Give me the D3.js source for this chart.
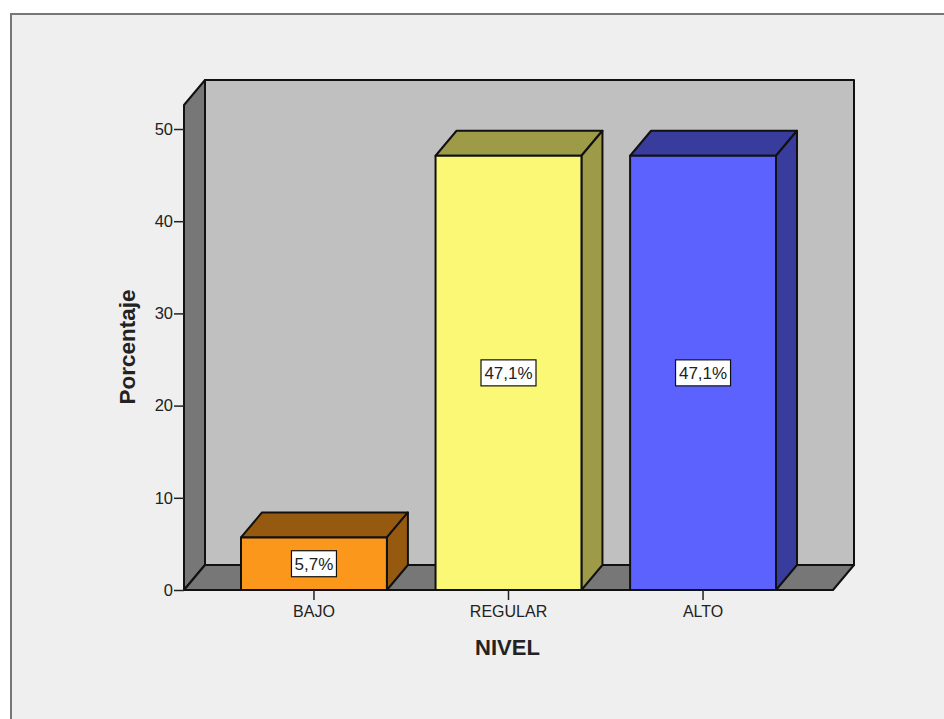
<!DOCTYPE html>
<html>
<head>
<meta charset="utf-8">
<script src="https://cdn.jsdelivr.net/npm/d3@7"></script>
<style>
  html, body { margin: 0; padding: 0; background: #fff; }
  svg { display: block; }
  text { font-family: "Liberation Sans", Arial, sans-serif; fill: #222; }
</style>
</head>
<body>
<div id="chart"></div>
<script>
const categories = ['BAJO', 'REGULAR', 'ALTO']
const percentages = [5.7, 47.1, 47.1]
const valueLabels = ['5,7%', '47,1%', '47,1%']
const frontColors = ['#fb981b', '#fbf875', '#5b62fe']
const darkColors = ['#955a10', '#9d9a48', '#383c9c']
const yTicks = [0, 10, 20, 30, 40, 50]

const width = 944, height = 719
const depthX = 21, depthY = -25
const line = '#111'

const svg = d3.select('#chart').append('svg')
  .attr('width', width)
  .attr('height', height)

// page panel, only left and top edges are visible in the crop
svg.append('rect')
  .attr('x', 11).attr('y', 14)
  .attr('width', width + 20).attr('height', height + 20)
  .attr('fill', '#efefef')
  .attr('stroke', '#777')
  .attr('stroke-width', 2)

const x = d3.scaleBand()
  .domain(categories)
  .range([184, 833])
  .paddingInner(0.25)
  .paddingOuter(0.293)

const y = d3.scaleLinear()
  .domain([0, 50])
  .range([590, 129])

const x0 = x.range()[0], x1 = x.range()[1]
const y0 = y(0)
const topY = 105

function poly(points, fill, sel) {
  return (sel || svg).append('polygon')
    .attr('points', points.map(p => p.join(',')).join(' '))
    .attr('fill', fill)
    .attr('stroke', line)
    .attr('stroke-width', 2)
    .attr('stroke-linejoin', 'round')
}

// back wall, side wall, floor
poly([[x0 + depthX, topY + depthY], [x1 + depthX, topY + depthY], [x1 + depthX, y0 + depthY], [x0 + depthX, y0 + depthY]], '#c0c0c0')
poly([[x0, topY], [x0 + depthX, topY + depthY], [x0 + depthX, y0 + depthY], [x0, y0]], '#777777')
poly([[x0, y0], [x0 + depthX, y0 + depthY], [x1 + depthX, y0 + depthY], [x1, y0]], '#777777')

// bars
categories.forEach((c, i) => {
  const left = x(c), right = left + x.bandwidth(), t = y(percentages[i])
  poly([[left, t], [left + depthX, t + depthY], [right + depthX, t + depthY], [right, t]], darkColors[i])
  poly([[right, t], [right + depthX, t + depthY], [right + depthX, y0 + depthY], [right, y0]], darkColors[i])
  poly([[left, t], [right, t], [right, y0], [left, y0]], frontColors[i])
})

// axes
const yAxis = svg.append('g')
  .attr('transform', `translate(${x0},0)`)
  .call(d3.axisLeft(y).tickValues(yTicks).tickSize(10).tickPadding(1).tickFormat(d3.format('d')))
yAxis.select('.domain').remove()
yAxis.selectAll('line').attr('stroke', '#222').attr('stroke-width', 1.5)
yAxis.selectAll('text').attr('font-size', 16.5).attr('fill', '#222').style('font-family', '"Liberation Sans", Arial, sans-serif')

const xAxis = svg.append('g')
  .attr('transform', `translate(0,${y0})`)
  .call(d3.axisBottom(x).tickSize(10).tickPadding(6))
xAxis.select('.domain').remove()
xAxis.selectAll('line').attr('stroke', '#222').attr('stroke-width', 1.5)
xAxis.selectAll('text').attr('font-size', 16).attr('fill', '#222').style('font-family', '"Liberation Sans", Arial, sans-serif')

// value labels sit in the middle of each bar
categories.forEach((c, i) => {
  const cx = x(c) + x.bandwidth() / 2
  const cy = y(percentages[i] / 2)
  const w = valueLabels[i].length > 4 ? 55 : 45
  svg.append('rect')
    .attr('x', cx - w / 2).attr('y', cy - 13)
    .attr('width', w).attr('height', 26)
    .attr('fill', '#fff')
    .attr('stroke', line)
    .attr('stroke-width', 1.2)
  svg.append('text')
    .attr('x', cx).attr('y', cy + 6)
    .attr('text-anchor', 'middle')
    .attr('font-size', 17)
    .text(valueLabels[i])
})

// axis titles
svg.append('text')
  .attr('x', 507.5).attr('y', 655)
  .attr('text-anchor', 'middle')
  .attr('font-size', 22)
  .attr('font-weight', 'bold')
  .text('NIVEL')

svg.append('text')
  .attr('transform', 'translate(135,347) rotate(-90)')
  .attr('text-anchor', 'middle')
  .attr('font-size', 22.5)
  .attr('font-weight', 'bold')
  .text('Porcentaje')
</script>
</body>
</html>
